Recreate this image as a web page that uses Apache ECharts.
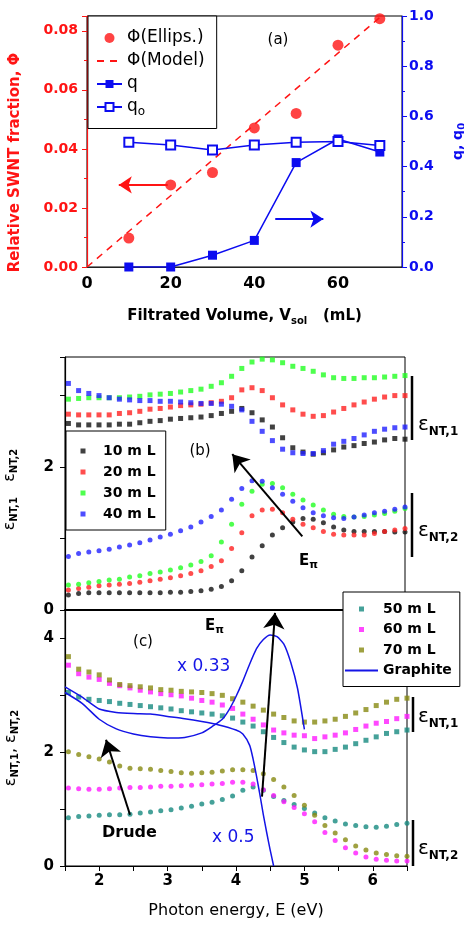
<!DOCTYPE html>
<html>
<head>
<meta charset="utf-8">
<script src="https://cdn.jsdelivr.net/npm/echarts@6/dist/echarts.min.js"></script>
<style>
  html, body { margin: 0; padding: 0; background: #fff; }
  #chart { width: 464px; height: 925px; }
</style>
</head>
<body>
<div id="chart"></div>
<script>
// ---- panel (a): SWNT fraction vs filtrated volume
const volume = [10, 20, 30, 40, 50, 60, 70]
const phiEllips = [0.0098, 0.0278, 0.0320, 0.0471, 0.0520, 0.0751, 0.0841]
const phiModelX = [0, 70]
const phiModel = [0, 0.0845]
const qVal = [0.0, 0.0, 0.047, 0.106, 0.416, 0.51, 0.458]
const qoVal = [0.497, 0.486, 0.466, 0.486, 0.497, 0.50, 0.484]

// ---- panels (b), (c): photon energy (eV)
const energy = [1.55, 1.70, 1.85, 2.00, 2.15, 2.30, 2.45, 2.60, 2.75, 2.90, 3.05, 3.20, 3.35, 3.50, 3.65, 3.80, 3.95,
  4.10, 4.25, 4.40, 4.55, 4.70, 4.85, 5.00, 5.15, 5.30, 5.45, 5.60, 5.75, 5.90, 6.05, 6.20, 6.35, 6.50]

// (b) eps1
const b1_10 = [2.61, 2.59, 2.59, 2.59, 2.59, 2.60, 2.60, 2.62, 2.64, 2.65, 2.67, 2.68, 2.69, 2.70, 2.72, 2.75, 2.78, 2.82, 2.76, 2.66, 2.56, 2.41, 2.27, 2.21, 2.18, 2.20, 2.24, 2.28, 2.30, 2.33, 2.35, 2.38, 2.40, 2.39]
const b1_20 = [2.74, 2.73, 2.73, 2.73, 2.73, 2.75, 2.76, 2.78, 2.81, 2.82, 2.84, 2.86, 2.87, 2.88, 2.90, 2.92, 2.97, 3.08, 3.11, 3.07, 2.97, 2.87, 2.80, 2.74, 2.71, 2.72, 2.77, 2.82, 2.87, 2.91, 2.95, 2.98, 3.00, 3.00]
const b1_30 = [2.95, 2.96, 2.97, 2.97, 2.97, 2.97, 2.98, 2.99, 3.01, 3.02, 3.03, 3.05, 3.07, 3.09, 3.13, 3.18, 3.27, 3.38, 3.47, 3.51, 3.50, 3.46, 3.41, 3.38, 3.34, 3.29, 3.25, 3.24, 3.24, 3.25, 3.25, 3.26, 3.27, 3.28]
const b1_40 = [3.17, 3.07, 3.03, 3.00, 2.97, 2.95, 2.94, 2.93, 2.93, 2.92, 2.92, 2.91, 2.90, 2.89, 2.89, 2.88, 2.85, 2.80, 2.64, 2.50, 2.37, 2.25, 2.20, 2.19, 2.19, 2.23, 2.32, 2.36, 2.40, 2.45, 2.50, 2.53, 2.55, 2.56]
// (b) eps2
const b2_10 = [0.21, 0.23, 0.24, 0.24, 0.24, 0.24, 0.24, 0.24, 0.24, 0.24, 0.25, 0.25, 0.26, 0.27, 0.29, 0.33, 0.41, 0.55, 0.74, 0.90, 1.05, 1.15, 1.23, 1.28, 1.27, 1.22, 1.16, 1.12, 1.10, 1.10, 1.10, 1.10, 1.09, 1.09]
const b2_20 = [0.28, 0.30, 0.32, 0.34, 0.35, 0.36, 0.37, 0.39, 0.41, 0.43, 0.45, 0.48, 0.51, 0.55, 0.61, 0.69, 0.86, 1.08, 1.32, 1.40, 1.41, 1.36, 1.27, 1.20, 1.15, 1.10, 1.06, 1.05, 1.05, 1.05, 1.07, 1.10, 1.12, 1.14]
const b2_30 = [0.35, 0.36, 0.38, 0.40, 0.42, 0.43, 0.46, 0.48, 0.51, 0.53, 0.56, 0.59, 0.63, 0.68, 0.76, 0.95, 1.20, 1.48, 1.66, 1.76, 1.77, 1.71, 1.62, 1.54, 1.47, 1.40, 1.34, 1.31, 1.30, 1.31, 1.33, 1.35, 1.38, 1.42]
const b2_40 = [0.75, 0.79, 0.81, 0.83, 0.85, 0.88, 0.91, 0.94, 0.98, 1.02, 1.06, 1.11, 1.16, 1.23, 1.31, 1.40, 1.55, 1.70, 1.81, 1.80, 1.71, 1.62, 1.52, 1.43, 1.36, 1.32, 1.29, 1.28, 1.30, 1.33, 1.36, 1.38, 1.41, 1.44]

// (c) eps1
const c1_50 = [3.05, 2.97, 2.93, 2.91, 2.89, 2.86, 2.84, 2.82, 2.80, 2.78, 2.76, 2.73, 2.71, 2.69, 2.67, 2.64, 2.60, 2.53, 2.46, 2.36, 2.26, 2.17, 2.09, 2.04, 2.01, 2.01, 2.05, 2.09, 2.15, 2.21, 2.27, 2.33, 2.36, 2.39]
const c1_60 = [3.53, 3.38, 3.32, 3.28, 3.21, 3.17, 3.13, 3.09, 3.06, 3.03, 3.01, 2.99, 2.95, 2.91, 2.88, 2.83, 2.77, 2.67, 2.58, 2.48, 2.39, 2.34, 2.30, 2.29, 2.24, 2.27, 2.30, 2.34, 2.40, 2.46, 2.51, 2.54, 2.59, 2.63]
const c1_70 = [3.68, 3.46, 3.41, 3.36, 3.27, 3.19, 3.17, 3.15, 3.13, 3.10, 3.09, 3.07, 3.06, 3.05, 3.03, 3.00, 2.94, 2.88, 2.81, 2.74, 2.67, 2.61, 2.55, 2.53, 2.53, 2.55, 2.58, 2.63, 2.69, 2.75, 2.82, 2.88, 2.93, 2.95]
// (c) eps2
const c2_50 = [0.85, 0.87, 0.88, 0.89, 0.90, 0.90, 0.91, 0.93, 0.95, 0.97, 0.99, 1.02, 1.05, 1.09, 1.12, 1.17, 1.23, 1.33, 1.39, 1.33, 1.22, 1.15, 1.08, 1.01, 0.93, 0.85, 0.79, 0.74, 0.71, 0.69, 0.68, 0.70, 0.73, 0.75]
const c2_60 = [1.37, 1.36, 1.35, 1.35, 1.36, 1.37, 1.38, 1.38, 1.39, 1.40, 1.40, 1.41, 1.42, 1.43, 1.44, 1.45, 1.47, 1.47, 1.44, 1.34, 1.24, 1.13, 1.03, 0.92, 0.78, 0.59, 0.45, 0.32, 0.23, 0.16, 0.12, 0.10, 0.09, 0.09]
const c2_70 = [2.01, 1.96, 1.92, 1.88, 1.83, 1.76, 1.72, 1.71, 1.70, 1.68, 1.66, 1.64, 1.63, 1.64, 1.65, 1.67, 1.69, 1.69, 1.68, 1.62, 1.52, 1.39, 1.24, 1.07, 0.89, 0.71, 0.58, 0.46, 0.35, 0.28, 0.23, 0.20, 0.18, 0.17]

// graphite reference (eps1 x0.5, eps2 x0.33)
const graphiteE1x = [1.5, 1.75, 2.0, 2.25, 2.5, 2.75, 3.0, 3.25, 3.5, 3.75, 4.0, 4.1, 4.2, 4.25, 4.3, 4.35, 4.4, 4.45, 4.5, 4.55]
const graphiteE1 = [3.15, 2.97, 2.76, 2.70, 2.68, 2.67, 2.63, 2.59, 2.54, 2.48, 2.39, 2.32, 2.12, 1.88, 1.58, 1.25, 0.90, 0.58, 0.28, 0.0]
const graphiteE2x = [1.5, 1.75, 2.0, 2.25, 2.5, 2.75, 3.0, 3.25, 3.5, 3.65, 3.8, 3.9, 4.0, 4.1, 4.2, 4.3, 4.4, 4.5, 4.6, 4.7, 4.8, 4.9, 5.0]
const graphiteE2 = [3.05, 2.86, 2.58, 2.41, 2.32, 2.27, 2.25, 2.26, 2.34, 2.45, 2.58, 2.75, 2.98, 3.25, 3.55, 3.82, 3.98, 4.06, 4.03, 3.90, 3.58, 3.12, 2.40]

const FONT = 'DejaVu Sans'
const RED = '#ff1414'
const BLUE = '#0c0cf0'
const bColors = { '10 m L': '#111111', '20 m L': '#ff2020', '30 m L': '#22ff22', '40 m L': '#2020ff' }
const cColors = { '50 m L': '#178a80', '60 m L': '#ff1aff', '70 m L': '#878a12', Graphite: '#1414e6' }
// small square centred in the legend icon box (the extra moveTo points fix the box size)
const SQUARE_B = 'path://M0,0M30,5M12.5,0L17.5,0L17.5,5L12.5,5Z'
const SQUARE_C = 'path://M0,0M33,5M14,0L19,0L19,5L14,5Z'

const pts = (xs, ys) => xs.map((x, i) => [x, ys[i]])

function arrow(from, to, color, size) {
  return {
    silent: true,
    animation: false,
    symbol: ['none', 'arrow'],
    symbolSize: size,
    label: { show: false },
    lineStyle: { color: color, width: 2, type: 'solid' },
    data: [[{ coord: from }, { coord: to }]]
  }
}

function dots(name, ys, shape, xIdx, yIdx, color, extra) {
  return Object.assign({
    name: name,
    type: 'scatter',
    xAxisIndex: xIdx,
    yAxisIndex: yIdx,
    symbol: shape,
    symbolSize: 5,
    itemStyle: { color: color },
    data: pts(energy, ys)
  }, extra || {})
}

const tickLabel = { fontFamily: FONT, fontWeight: 'bold', fontSize: 14, color: '#000' }
const subRich = (size, pad) => ({ fontFamily: FONT, fontWeight: 'bold', fontSize: size, padding: [pad, 0, 0, 0] })

const chart = echarts.init(document.getElementById('chart'), null, { renderer: 'canvas' })

const option = {
  animation: false,
  backgroundColor: '#fff',
  textStyle: { fontFamily: FONT },
  grid: [
    { left: 87, top: 16, width: 315, height: 251, show: true, borderColor: '#000', borderWidth: 1, outerBoundsMode: 'none' },
    { left: 65, top: 357, width: 340, height: 253, show: true, borderColor: '#000', borderWidth: 1, outerBoundsMode: 'none' },
    { left: 65, top: 610, width: 342, height: 256, show: true, borderColor: '#000', borderWidth: 1, outerBoundsMode: 'none' }
  ],
  xAxis: [
    {
      gridIndex: 0, type: 'value', min: 0, max: 75.3, interval: 20,
      axisLine: { lineStyle: { color: '#222', width: 1.2 } },
      axisTick: { show: false },
      splitLine: { show: false },
      axisLabel: Object.assign({}, tickLabel, { fontSize: 16, margin: 9, formatter: v => (v % 20 === 0 ? String(v) : '') }),
      name: 'Filtrated Volume, V{s|sol}   (mL)',
      nameLocation: 'middle', nameGap: 40,
      nameTextStyle: { fontFamily: FONT, fontWeight: 'bold', fontSize: 15, color: '#000', rich: { s: subRich(10, 9) } }
    },
    {
      gridIndex: 1, type: 'value', min: 1.5, max: 6.5, interval: 0.5,
      axisLine: { onZero: false, lineStyle: { color: '#000', width: 2 } },
      axisTick: { show: false }, axisLabel: { show: false }, splitLine: { show: false }
    },
    {
      gridIndex: 2, type: 'value', min: 1.5, max: 6.5, interval: 0.5,
      axisLine: { onZero: false, lineStyle: { color: '#000', width: 1.2 } },
      axisTick: { show: true, length: 5, lineStyle: { color: '#000' } },
      splitLine: { show: false },
      axisLabel: Object.assign({}, tickLabel, { fontSize: 15, margin: 8, formatter: v => (Number.isInteger(v) ? String(v) : '') }),
      name: 'Photon energy, E (eV)',
      nameLocation: 'middle', nameGap: 37,
      nameTextStyle: { fontFamily: FONT, fontSize: 16, color: '#000' }
    }
  ],
  yAxis: [
    {
      gridIndex: 0, type: 'value', min: 0, max: 0.085, interval: 0.02,
      axisLine: { show: true, lineStyle: { color: RED, width: 1.2 } },
      axisTick: { show: true, length: 5, lineStyle: { color: RED } },
      minorTick: { show: true, splitNumber: 2, length: 3, lineStyle: { color: RED } },
      splitLine: { show: false },
      axisLabel: Object.assign({}, tickLabel, { color: RED, margin: 9, formatter: v => (Math.abs(v / 0.02 - Math.round(v / 0.02)) < 1e-6 ? v.toFixed(2) : '') }),
      name: 'Relative SWNT fraction, Φ',
      nameLocation: 'middle', nameRotate: 90, nameGap: 64,
      nameTextStyle: { fontFamily: FONT, fontWeight: 'bold', fontSize: 15, color: RED, padding: [0, 42, 0, 0] }
    },
    {
      gridIndex: 0, type: 'value', position: 'right', min: 0, max: 1.0, interval: 0.2,
      axisLine: { show: true, lineStyle: { color: BLUE, width: 1.2 } },
      axisTick: { show: true, length: 5, lineStyle: { color: BLUE } },
      minorTick: { show: true, splitNumber: 2, length: 3, lineStyle: { color: BLUE } },
      splitLine: { show: false },
      axisLabel: Object.assign({}, tickLabel, { color: BLUE, margin: 7, formatter: v => v.toFixed(1) }),
      name: 'q, q{s|0}',
      nameLocation: 'middle', nameRotate: 90, nameGap: 47,
      nameTextStyle: { fontFamily: FONT, fontWeight: 'bold', fontSize: 14, color: BLUE, rich: { s: Object.assign(subRich(10, 8), { color: BLUE }) } }
    },
    {
      gridIndex: 1, type: 'value', min: 0, max: 3.54, interval: 1,
      axisLine: { show: true, lineStyle: { color: '#000', width: 1.2 } },
      axisTick: { show: true, length: 5, lineStyle: { color: '#000' } },
      splitLine: { show: false },
      axisLabel: Object.assign({}, tickLabel, { fontSize: 15, margin: 11, formatter: v => (v === 0 || v === 2 ? String(v) : '') }),
      name: 'ε{s|NT,1}   ε{s|NT,2}',
      nameLocation: 'middle', nameRotate: 90, nameGap: 46,
      nameTextStyle: { fontFamily: FONT, fontSize: 16, color: '#000', padding: [0, 12, 0, 0], rich: { s: subRich(10, 9) } }
    },
    {
      gridIndex: 2, type: 'value', min: 0, max: 4.5, interval: 1,
      axisLine: { show: true, lineStyle: { color: '#000', width: 1.2 } },
      axisTick: { show: true, length: 5, lineStyle: { color: '#000' } },
      splitLine: { show: false },
      axisLabel: Object.assign({}, tickLabel, { fontSize: 15, margin: 11, formatter: v => (v === 0 || v === 2 || v === 4 ? String(v) : '') }),
      name: 'ε{s|NT,1}, ε{s|NT,2}',
      nameLocation: 'middle', nameRotate: 90, nameGap: 45,
      nameTextStyle: { fontFamily: FONT, fontSize: 16, color: '#000', padding: [0, 20, 0, 0], rich: { s: subRich(10, 9) } }
    }
  ],
  legend: [
    {
      data: ['Φ(Ellips.)', { name: 'Φ(Model)', itemStyle: { opacity: 0 } }, 'q', 'qo'],
      orient: 'vertical', left: 88, top: 16, selectedMode: false,
      itemWidth: 25, itemHeight: 10, itemGap: 5,
      padding: [13, 12, 11, 8],
      backgroundColor: '#fff', borderColor: '#000', borderWidth: 1, borderRadius: 0,
      formatter: name => (name === 'qo' ? 'q{sub|o}' : name),
      textStyle: { fontFamily: FONT, fontSize: 17, lineHeight: 18, color: '#000', rich: { sub: { fontFamily: FONT, fontSize: 12, padding: [9, 0, 0, 0] } } }
    },
    {
      data: ['10 m L', '20 m L', '30 m L', '40 m L'].map(n => ({ name: n, icon: SQUARE_B })),
      orient: 'vertical', left: 66, top: 431, selectedMode: false,
      itemWidth: 30, itemHeight: 5, itemGap: 5,
      padding: [12, 10, 8, 2],
      backgroundColor: '#fff', borderColor: '#000', borderWidth: 1, borderRadius: 0,
      textStyle: { fontFamily: FONT, fontWeight: 'bold', fontSize: 14, lineHeight: 16, color: '#000' }
    },
    {
      data: [
        { name: '50 m L', icon: SQUARE_C }, { name: '60 m L', icon: SQUARE_C }, { name: '70 m L', icon: SQUARE_C },
        { name: 'Graphite', itemStyle: { opacity: 0 } }
      ],
      orient: 'vertical', left: 343, top: 592, selectedMode: false,
      itemWidth: 33, itemHeight: 5, itemGap: 4.5,
      padding: [9, 8, 8, 1],
      backgroundColor: '#fff', borderColor: '#000', borderWidth: 1, borderRadius: 0,
      textStyle: { fontFamily: FONT, fontWeight: 'bold', fontSize: 14, lineHeight: 16, color: '#000' }
    }
  ],
  series: [
    // (a)
    {
      name: 'Φ(Model)', type: 'line', xAxisIndex: 0, yAxisIndex: 0, symbol: 'none',
      lineStyle: { color: RED, width: 1.5, type: [7, 6] }, itemStyle: { color: RED },
      data: pts(phiModelX, phiModel)
    },
    {
      name: 'Φ(Ellips.)', type: 'scatter', xAxisIndex: 0, yAxisIndex: 0, symbol: 'circle', symbolSize: 11,
      itemStyle: { color: RED }, data: pts(volume, phiEllips),
      markLine: arrow([19.3, 0.0278], [7.6, 0.0278], RED, 13)
    },
    {
      name: 'q', type: 'line', xAxisIndex: 0, yAxisIndex: 1, symbol: 'rect', symbolSize: 9,
      itemStyle: { color: BLUE }, lineStyle: { color: BLUE, width: 1.5 }, data: pts(volume, qVal),
      markLine: arrow([45, 0.191], [56.5, 0.191], BLUE, 13)
    },
    {
      name: 'qo', type: 'line', xAxisIndex: 0, yAxisIndex: 1, symbol: 'emptyRect', symbolSize: 9,
      itemStyle: { color: BLUE, borderWidth: 1.2 }, lineStyle: { color: BLUE, width: 1.5 }, data: pts(volume, qoVal)
    },
    // (b) eps1 squares, eps2 dots
    dots('10 m L', b1_10, 'rect', 1, 2, bColors['10 m L']),
    dots('20 m L', b1_20, 'rect', 1, 2, bColors['20 m L']),
    dots('30 m L', b1_30, 'rect', 1, 2, bColors['30 m L']),
    dots('40 m L', b1_40, 'rect', 1, 2, bColors['40 m L']),
    dots('10 m L', b2_10, 'circle', 1, 2, bColors['10 m L'], { markLine: arrow([4.99, 1.03], [3.96, 2.18], '#000', 16) }),
    dots('20 m L', b2_20, 'circle', 1, 2, bColors['20 m L']),
    dots('30 m L', b2_30, 'circle', 1, 2, bColors['30 m L']),
    dots('40 m L', b2_40, 'circle', 1, 2, bColors['40 m L']),
    // (c)
    dots('50 m L', c1_50, 'rect', 2, 3, cColors['50 m L']),
    dots('60 m L', c1_60, 'rect', 2, 3, cColors['60 m L']),
    dots('70 m L', c1_70, 'rect', 2, 3, cColors['70 m L']),
    dots('50 m L', c2_50, 'circle', 2, 3, cColors['50 m L'], { markLine: arrow([2.45, 0.90], [2.10, 2.22], '#000', 16) }),
    dots('60 m L', c2_60, 'circle', 2, 3, cColors['60 m L']),
    dots('70 m L', c2_70, 'circle', 2, 3, cColors['70 m L'], { markLine: arrow([4.38, 1.22], [4.57, 4.45], '#000', 16) }),
    {
      name: 'Graphite', type: 'line', xAxisIndex: 2, yAxisIndex: 3, symbol: 'none', smooth: 0.2,
      lineStyle: { color: cColors.Graphite, width: 1.5 }, itemStyle: { color: cColors.Graphite },
      data: pts(graphiteE1x, graphiteE1)
    },
    {
      name: 'Graphite', type: 'line', xAxisIndex: 2, yAxisIndex: 3, symbol: 'none', smooth: 0.2,
      lineStyle: { color: cColors.Graphite, width: 1.5 }, itemStyle: { color: cColors.Graphite },
      data: pts(graphiteE2x, graphiteE2)
    }
  ],
  graphic: [
    { type: 'text', style: { x: 278, y: 40, text: '(a)', font: '15px "DejaVu Sans"', fill: '#000', align: 'center', verticalAlign: 'middle' } },
    { type: 'text', style: { x: 200, y: 451, text: '(b)', font: '15px "DejaVu Sans"', fill: '#000', align: 'center', verticalAlign: 'middle' } },
    { type: 'text', style: { x: 143, y: 642, text: '(c)', font: '15px "DejaVu Sans"', fill: '#000', align: 'center', verticalAlign: 'middle' } },
    {
      type: 'text', style: {
        x: 299, y: 552, text: '{e|E}{p|π}', fill: '#000',
        rich: { e: { fontFamily: FONT, fontWeight: 'bold', fontSize: 15 }, p: { fontFamily: FONT, fontWeight: 'bold', fontSize: 11, padding: [8, 0, 0, 0] } }
      }
    },
    {
      type: 'text', style: {
        x: 205, y: 617, text: '{e|E}{p|π}', fill: '#000',
        rich: { e: { fontFamily: FONT, fontWeight: 'bold', fontSize: 15 }, p: { fontFamily: FONT, fontWeight: 'bold', fontSize: 11, padding: [8, 0, 0, 0] } }
      }
    },
    { type: 'text', style: { x: 177, y: 667, text: 'x 0.33', font: '17px "DejaVu Sans"', fill: cColors.Graphite, verticalAlign: 'middle' } },
    { type: 'text', style: { x: 212, y: 838, text: 'x 0.5', font: '17px "DejaVu Sans"', fill: cColors.Graphite, verticalAlign: 'middle' } },
    { type: 'text', style: { x: 102, y: 833, text: 'Drude', font: 'bold 16px "DejaVu Sans"', fill: '#000', verticalAlign: 'middle' } },
    // eps_NT brackets on the right
    { type: 'line', shape: { x1: 412, y1: 376, x2: 412, y2: 440 }, style: { stroke: '#000', lineWidth: 2.5 } },
    { type: 'line', shape: { x1: 412, y1: 493, x2: 412, y2: 557 }, style: { stroke: '#000', lineWidth: 2.5 } },
    { type: 'line', shape: { x1: 413, y1: 697, x2: 413, y2: 732 }, style: { stroke: '#000', lineWidth: 2.5 } },
    { type: 'line', shape: { x1: 413, y1: 820, x2: 413, y2: 866 }, style: { stroke: '#000', lineWidth: 2.5 } },
    ...[[418, 412, '1'], [418, 518, '2'], [418, 704, '1'], [418, 836, '2']].map(([x, y, k]) => ({
      type: 'text', style: {
        x: x, y: y, text: '{e|ε}{s|NT,' + k + '}', fill: '#000',
        rich: { e: { fontFamily: FONT, fontSize: 20 }, s: { fontFamily: FONT, fontWeight: 'bold', fontSize: 12, padding: [14, 0, 0, 0] } }
      }
    }))
  ]
}

chart.setOption(option)
</script>
</body>
</html>
